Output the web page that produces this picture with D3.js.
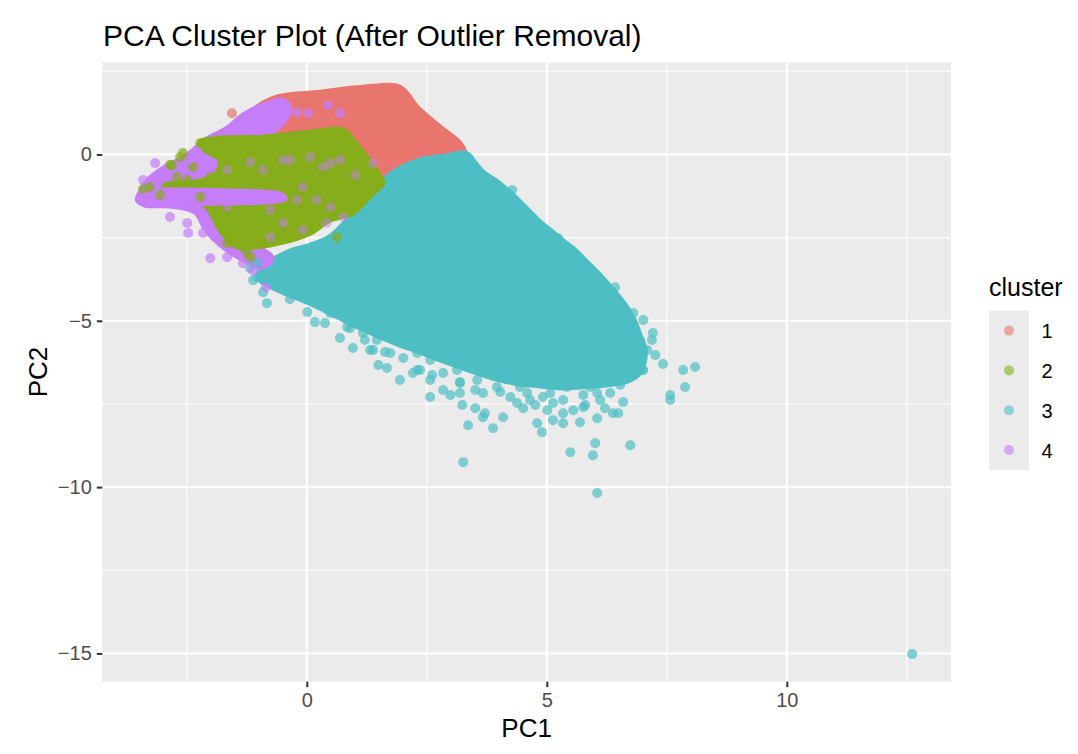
<!DOCTYPE html>
<html>
<head>
<meta charset="utf-8">
<script src="https://cdn.jsdelivr.net/npm/d3@7/dist/d3.min.js"></script>
<style>
    body { margin: 0; background: #ffffff; }
    text { font-family: "Liberation Sans", Arial, Helvetica, sans-serif; }
</style>
</head>
<body>
<div id="chart"></div>
<script>
let width = 1078;
let height = 754;
let panel = { left: 102.3, right: 951, top: 62.3, bottom: 681.7 };

let clusters = ["1", "2", "3", "4"];
let clusterColors = ["#E8766F", "#86AD1A", "#4DBFC4", "#C67DFA"];
let xDomain = [-4.26, 13.42];
let yDomain = [-15.85, 2.77];
let xMajorTicks = [0, 5, 10];
let xMinorTicks = [-2.5, 2.5, 7.5, 12.5];
let yMajorTicks = [0, -5, -10, -15];
let yMinorTicks = [2.5, -2.5, -7.5, -12.5];

// dense parts of each cluster, where the points melt into one solid patch
let cluster1Area = [[-1.18, 1.18], [-0.70, 1.69], [0.28, 1.87], [1.17, 2.02], [1.94, 2.02], [2.30, 1.42],
    [2.78, 0.82], [3.19, 0.34], [3.28, 0.07], [2.78, -0.08], [2.21, -0.17], [1.88, -0.47], [1.67, -0.77],
    [1.25, -0.08], [0.90, 0.52], [-0.14, 0.58], [-1.08, 0.73]];
let cluster3Area = [[1.59, -0.77], [1.94, -0.41], [2.36, -0.17], [2.88, -0.05], [3.32, 0.04], [3.51, -0.26],
    [3.67, -0.53], [3.92, -0.77], [4.13, -1.01], [4.34, -1.28], [4.61, -1.67], [4.86, -2.03], [5.07, -2.27],
    [5.32, -2.58], [5.59, -2.88], [5.80, -3.18], [6.05, -3.54], [6.26, -3.87], [6.49, -4.26], [6.68, -4.62],
    [6.84, -5.04], [6.94, -5.43], [7.05, -5.88], [7.02, -6.30], [6.90, -6.63], [6.63, -6.84], [6.22, -6.93],
    [5.69, -6.99], [5.28, -7.02], [4.86, -6.96], [4.44, -6.90], [4.03, -6.78], [3.61, -6.60], [3.19, -6.39],
    [2.78, -6.18], [2.36, -5.94], [1.94, -5.73], [1.53, -5.49], [1.11, -5.22], [0.69, -4.92], [0.28, -4.62],
    [-0.14, -4.35], [-0.51, -4.14], [-0.81, -3.93], [-1.01, -3.72], [-0.93, -3.36], [-0.66, -3.12],
    [-0.31, -2.88], [0.07, -2.73], [0.49, -2.46], [0.80, -2.03], [1.07, -1.61], [1.28, -1.25]];
let cluster4Area = [[-0.49, 1.63], [-0.91, 1.48], [-1.33, 1.18], [-1.66, 0.79], [-2.12, 0.43], [-2.49, -0.02],
    [-2.99, -0.41], [-3.31, -0.77], [-3.47, -1.13], [-3.53, -1.37], [-3.37, -1.52], [-2.85, -1.55],
    [-2.33, -1.73], [-2.12, -2.22], [-1.91, -2.58], [-1.60, -2.94], [-1.22, -3.24], [-0.93, -3.42],
    [-0.72, -3.12], [-0.97, -2.82], [-1.39, -2.58], [-1.60, -1.37], [-1.18, 0.13], [-0.66, 0.73], [-0.35, 1.33]];
let cluster2Area = [[-2.22, 0.37], [-1.81, 0.49], [-0.97, 0.52], [0.07, 0.67], [0.76, 0.73], [0.96, 0.43],
    [1.25, -0.08], [1.53, -0.68], [1.59, -0.86], [1.38, -1.16], [0.96, -1.76], [0.49, -1.97], [0.07, -2.37],
    [-0.35, -2.58], [-1.12, -2.79], [-1.45, -2.79], [-1.81, -2.27], [-1.95, -1.88], [-2.12, -1.52],
    [-2.64, -1.22], [-2.99, -1.13], [-2.95, -0.92], [-2.33, -0.83], [-1.91, -0.62], [-1.81, -0.17], [-2.12, 0.13]];
let cluster4Band = [[-3.47, -1.16], [-2.64, -1.07], [-1.60, -1.10], [-0.56, -1.19], [-0.45, -1.34],
    [-1.60, -1.46], [-2.64, -1.46], [-3.47, -1.43]];

// single points around the edges of the patches and mixed in on top of them
let cluster1Points = [[-1.56, 1.24]];
let cluster2Points = [[-3.41, -1.04], [-3.27, -0.98], [-2.85, -0.32], [-2.58, 0.04], [-2.22, 0.34],
    [-2.01, 0.37], [-1.85, 0.43], [-1.66, -2.67], [-1.24, -2.97], [-1.03, -2.67], [0.63, -2.49],
    [-2.49, -0.77], [-2.01, -0.68], [-2.37, -0.38], [-2.70, -0.68], [-1.81, -1.67], [-1.53, -1.88],
    [-1.60, -2.49], [-1.33, -2.79], [-1.18, -3.09], [-2.64, -0.08], [-2.81, -0.32], [-2.22, -1.28],
    [-3.06, -1.22]];
let cluster3Points = [[8.09, -6.39], [7.84, -6.48], [7.88, -6.99], [7.57, -7.23], [7.57, -7.38], [7.42, -6.30],
    [7.21, -5.37], [7.19, -5.58], [7.09, -5.88], [7.01, -4.98], [6.99, -6.48], [6.69, -6.57], [6.59, -7.44],
    [6.49, -7.78], [6.38, -7.78], [6.74, -8.74], [6.01, -8.68], [5.96, -9.04], [5.49, -8.95], [5.69, -8.05],
    [6.05, -7.93], [6.21, -7.63], [6.32, -7.17], [5.55, -7.69], [5.34, -8.08], [5.13, -7.99], [4.90, -8.35],
    [4.80, -8.08], [4.51, -7.63], [4.38, -7.47], [4.09, -7.90], [3.88, -8.23], [3.71, -7.78], [3.51, -7.63],
    [3.36, -8.14], [3.24, -7.53], [3.26, -9.25], [2.84, -7.08], [2.57, -7.29], [2.61, -6.63], [2.21, -6.57],
    [1.94, -6.78], [1.67, -6.42], [1.49, -6.33], [2.01, -6.12], [1.38, -5.88], [0.96, -5.82], [1.21, -5.58],
    [0.90, -5.22], [0.38, -5.07], [0.01, -4.74], [-0.35, -4.35], [-0.83, -4.47], [-0.91, -4.14],
    [-1.12, -3.78], [-0.76, -3.63], [-0.35, -3.99], [5.76, -7.23], [6.11, -7.38], [5.13, -7.47],
    [4.92, -7.29], [4.59, -7.17], [5.42, -6.99], [5.63, -6.57], [5.90, -6.48], [6.42, -3.99], [6.80, -4.77],
    [6.69, -5.67], [6.38, -6.09], [6.63, -6.39], [5.69, -3.12], [5.24, -2.52], [4.28, -1.07],
    [4.03, -7.14], [3.19, -6.84], [2.36, -6.48], [1.63, -5.94], [0.69, -5.52], [0.17, -5.04], [4.76, -7.53],
    [5.80, -7.53], [6.53, -6.93], [7.26, -6.03], [2.99, -7.23], [3.51, -7.08],
    [0.49, -4.77], [0.84, -5.19], [1.17, -5.37], [1.32, -5.88], [2.01, -5.58], [2.30, -5.97], [2.57, -6.18],
    [2.84, -6.57], [3.13, -6.48], [3.19, -6.87], [3.55, -6.78], [3.67, -7.17], [3.96, -6.99], [4.24, -7.29],
    [4.44, -6.99], [4.65, -7.38], [5.07, -7.17], [5.34, -7.38], [5.69, -6.78], [5.90, -6.99], [6.18, -6.78],
    [6.46, -6.57], [6.74, -5.97], [6.94, -5.58], [6.59, -5.19], [6.39, -4.77], [6.05, -4.38], [7.01, -6.48],
    [5.34, -7.78], [5.01, -7.69], [5.76, -7.60], [6.05, -7.17], [3.67, -7.90], [3.19, -7.17], [2.30, -6.48],
    [1.74, -5.97], [2.57, -6.78], [1.46, -5.58],
    [-1.03, -3.27], [-0.83, -3.54], [-0.62, -3.69], [-1.03, -3.69], [-1.18, -3.42],
    [6.05, -10.18], [12.61, -15.02]];
let cluster4Points = [[-3.16, -0.26], [-3.41, -0.77], [-2.85, -1.88], [-2.49, -2.06], [-2.47, -2.36],
    [-2.01, -3.12], [-2.16, -2.36], [-1.66, -3.09], [-1.33, -3.27], [-1.12, -3.48], [-0.85, -3.99],
    [-0.20, 1.27], [0.03, 1.24], [0.44, 1.48], [0.69, 1.24], [-0.56, 0.94], [-1.12, 0.79]];
let cluster4Mixed = [[-1.66, -0.47], [-1.18, -0.23], [-0.91, -0.47], [-0.49, -0.17], [0.07, -0.08],
    [0.34, -0.38], [-0.08, -0.98], [-1.66, -1.58], [-0.76, -1.67], [-0.20, -1.37], [0.21, -1.37],
    [0.49, -1.58], [-0.49, -2.06], [-0.08, -2.27], [-0.76, -2.49], [0.42, -2.06], [0.76, -1.88],
    [1.01, -0.62], [0.69, -0.17], [-0.35, -0.17], [0.49, -0.26], [1.38, -0.26]];

let svg = d3.select("#chart")
    .append("svg")
    .attr("width", width)
    .attr("height", height);

let x = d3.scaleLinear().domain(xDomain).range([panel.left, panel.right]);
let y = d3.scaleLinear().domain(yDomain).range([panel.bottom, panel.top]);
let color = d3.scaleOrdinal().domain(clusters).range(clusterColors);

svg.append("clipPath")
    .attr("id", "panelClip")
    .append("rect")
    .attr("x", panel.left)
    .attr("y", panel.top)
    .attr("width", panel.right - panel.left)
    .attr("height", panel.bottom - panel.top);

svg.append("rect")
    .attr("x", panel.left)
    .attr("y", panel.top)
    .attr("width", panel.right - panel.left)
    .attr("height", panel.bottom - panel.top)
    .attr("fill", "#EBEBEB");

let grid = svg.append("g");
grid.selectAll(".xminor").data(xMinorTicks).enter().append("line")
    .attr("x1", d => x(d)).attr("x2", d => x(d))
    .attr("y1", panel.top).attr("y2", panel.bottom)
    .attr("stroke", "#FFFFFF").attr("stroke-width", 1.1);
grid.selectAll(".yminor").data(yMinorTicks).enter().append("line")
    .attr("y1", d => y(d)).attr("y2", d => y(d))
    .attr("x1", panel.left).attr("x2", panel.right)
    .attr("stroke", "#FFFFFF").attr("stroke-width", 1.1);
grid.selectAll(".xmajor").data(xMajorTicks).enter().append("line")
    .attr("x1", d => x(d)).attr("x2", d => x(d))
    .attr("y1", panel.top).attr("y2", panel.bottom)
    .attr("stroke", "#FFFFFF").attr("stroke-width", 2.2);
grid.selectAll(".ymajor").data(yMajorTicks).enter().append("line")
    .attr("y1", d => y(d)).attr("y2", d => y(d))
    .attr("x1", panel.left).attr("x2", panel.right)
    .attr("stroke", "#FFFFFF").attr("stroke-width", 2.2);

let marks = svg.append("g").attr("clip-path", "url(#panelClip)");
let area = d3.line().x(d => x(d[0])).y(d => y(d[1])).curve(d3.curveCatmullRomClosed.alpha(0.5));

// drawing order roughly follows what ends up on top in the picture
let patches = [
    { cluster: "1", points: cluster1Area },
    { cluster: "3", points: cluster3Area },
    { cluster: "4", points: cluster4Area },
    { cluster: "2", points: cluster2Area },
    { cluster: "4", points: cluster4Band }
];
marks.selectAll(".patch").data(patches).enter().append("path")
    .attr("d", d => area(d.points))
    .attr("fill", d => color(d.cluster))
    .attr("stroke", d => color(d.cluster))
    .attr("stroke-width", 5)
    .attr("stroke-linejoin", "round");

let singles = [
    { cluster: "3", points: cluster3Points, opacity: 0.7 },
    { cluster: "2", points: cluster2Points, opacity: 0.7 },
    { cluster: "4", points: cluster4Points, opacity: 0.7 },
    { cluster: "4", points: cluster4Mixed, opacity: 0.45 },
    { cluster: "1", points: cluster1Points, opacity: 0.7 }
];
singles.forEach(function (s) {
    marks.selectAll(null).data(s.points).enter().append("circle")
        .attr("cx", d => x(d[0]))
        .attr("cy", d => y(d[1]))
        .attr("r", 5)
        .attr("fill", color(s.cluster))
        .attr("fill-opacity", s.opacity);
});

// axes: ggplot style ticks, no domain line
let xAxis = svg.append("g")
    .attr("transform", "translate(0," + panel.bottom + ")")
    .call(d3.axisBottom(x).tickValues(xMajorTicks).tickSize(5.5).tickPadding(6).tickFormat(d3.format("d")));
let yAxis = svg.append("g")
    .attr("transform", "translate(" + panel.left + ",0)")
    .call(d3.axisLeft(y).tickValues(yMajorTicks).tickSize(5.5).tickPadding(5)
        .tickFormat(d => d < 0 ? "\u2212" + Math.abs(d) : d));
[xAxis, yAxis].forEach(function (ax) {
    ax.select(".domain").remove();
    ax.selectAll(".tick line").attr("stroke", "#333333").attr("stroke-width", 2);
    ax.selectAll(".tick text")
        .attr("fill", "#4D4D4D")
        .style("font-size", "20px")
        .style("font-family", "\"Liberation Sans\", Arial, sans-serif");
});

svg.append("text")
    .attr("x", (panel.left + panel.right) / 2)
    .attr("y", 737)
    .attr("text-anchor", "middle")
    .style("font-size", "26px")
    .text("PC1");

svg.append("text")
    .attr("transform", "translate(47," + (panel.top + panel.bottom) / 2 + ") rotate(-90)")
    .attr("text-anchor", "middle")
    .style("font-size", "26px")
    .text("PC2");

svg.append("text")
    .attr("x", 103)
    .attr("y", 46)
    .style("font-size", "30px")
    .text("PCA Cluster Plot (After Outlier Removal)");

// legend
let legend = svg.append("g").attr("transform", "translate(989,0)");
legend.append("text")
    .attr("x", 0)
    .attr("y", 296)
    .style("font-size", "25px")
    .text("cluster");
legend.append("rect")
    .attr("x", 0)
    .attr("y", 310.7)
    .attr("width", 40)
    .attr("height", 159.3)
    .attr("fill", "#EBEBEB");
let keys = legend.selectAll(".key").data(clusters).enter().append("g")
    .attr("transform", (d, i) => "translate(0," + (330.6 + i * 39.8) + ")");
keys.append("circle")
    .attr("cx", 20)
    .attr("cy", 0)
    .attr("r", 5)
    .attr("fill", d => color(d))
    .attr("fill-opacity", 0.6);
keys.append("text")
    .attr("x", 52.5)
    .attr("y", 7.5)
    .style("font-size", "20px")
    .text(d => d);
</script>
</body>
</html>
